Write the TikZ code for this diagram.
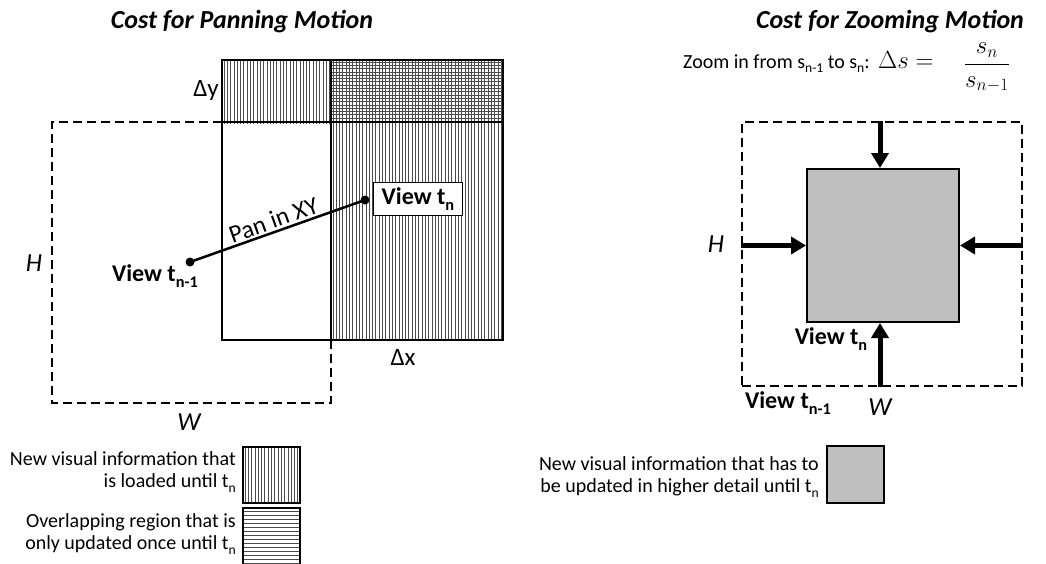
\documentclass[tikz,border=0pt]{standalone}
\usepackage{fontspec}
\setmainfont{Carlito}
\usetikzlibrary{arrows.meta}
\newcommand\dn[1]{\raisebox{-0.5ex}{\scalebox{0.68}{#1}}}
\begin{document}
\begin{tikzpicture}[x=1pt,y=-1pt,
  frame/.style={draw=black,line width=2.2pt},
  dashframe/.style={draw=black,line width=2pt,dash pattern=on 9pt off 5pt},
  hatch/.style={black!70,line width=0.8pt},
  lbl/.style={font=\fontsize{25}{28}\selectfont,inner sep=1pt},
  bold/.style={font=\fontsize{24}{27}\selectfont\bfseries,inner sep=1pt},
  ital/.style={font=\fontsize{26}{29}\selectfont\itshape,inner sep=1pt},
  title/.style={font=\fontsize{26}{30}\selectfont\bfseries\itshape,inner sep=0pt},
  legend/.style={font=\fontsize{20}{22}\selectfont,align=right,inner sep=0pt,anchor=east},
  dot/.style={circle,fill=black,inner sep=0pt,minimum size=9pt},
  zarrow/.style={line width=5pt,-{Triangle[width=17pt,length=15pt]}}
]
\useasboundingbox (0,0) rectangle (1046,563);
% ---------------- Panning ----------------
\node[title] (t1) at (242,22) {Cost for Panning Motion};
% hatching
\foreach \x in {224,227.3,...,502} \draw[hatch] (\x,60) -- (\x,340);
\foreach \y in {62,65.3,...,121} \draw[hatch] (331,\y) -- (503,\y);
% frames
\draw[frame] (222,60) rectangle (503,340);
\draw[frame] (222,122) -- (503,122);
\draw[frame] (331,60) -- (331,340);
\fill[white] (223.5,123.5) rectangle (329.5,338.5);
\draw[frame] (222,122) -- (222,340) -- (331,340);
% old view (dashed)
\draw[dashframe] (222,122) -- (52,122) -- (52,403) -- (331,403) -- (331,340);
\node[lbl] (dy) at (206,90) {Δy};
\node[lbl] (dx) at (403,357) {Δx};
\node[ital] (h1) at (34,263) {H};
\node[ital] (w1) at (189,422) {W};
% pan line
\node[dot] (p1) at (190,262) {};
\node[dot] (p2) at (365,200) {};
\draw[line width=2.5pt] (p1.center) -- node[sloped,above,lbl,inner sep=2pt] (pan) {Pan in XY} (p2.center);
\node[draw,fill=white,line width=0.8pt,bold,anchor=west,minimum width=89pt,minimum height=33pt,inner sep=3pt] (vtn) at (373,199) {View t\dn{n}};
\node[bold] (vtn1) at (155,276) {View t\dn{n-1}};
% ---------------- Zooming ----------------
\node[title] (t2) at (890,22) {Cost for Zooming Motion};
\node[font=\fontsize{20}{23}\selectfont,anchor=base west,inner sep=0pt] (ztext) at (683,68) {Zoom in from s\dn{n-1} to s\dn{n}:};
\node[font=\fontsize{23}{26}\selectfont,anchor=base west,inner sep=0pt] (zds) at ([xshift=8pt]ztext.base east) {$\Delta s = $};
\node[font=\fontsize{25}{28}\selectfont,anchor=west,inner sep=0pt] (zfrac) at ([xshift=30pt,yshift=-8pt]zds.east) {$\displaystyle\frac{s_n}{s_{n-1}}$};
\node[dashframe,minimum width=280pt,minimum height=264pt,inner sep=0pt] (old) at (882,254) {};
\node[draw=black,line width=2pt,fill=black!25,minimum width=152pt,minimum height=153pt,inner sep=0pt] (new) at (883,245.5) {};
\draw[zarrow] (old.north -| 880,0) -- (new.north -| 880,0);
\draw[zarrow] (old.west |- new.west) -- (new.west);
\draw[zarrow] (old.east |- new.east) -- (new.east);
\draw[zarrow] (old.south -| 880,0) -- (new.south -| 880,0);
\node[ital] (h2) at (716,244) {H};
\node[ital] (w2) at (880,407) {W};
\node[bold] (zvtn) at (831,339) {View t\dn{n}};
\node[bold] (zvtn1) at (788,403) {View t\dn{n-1}};
% ---------------- Legends ----------------
\node[legend] (l1) at (236,472) {New visual information that\\is loaded until t\dn{n}};
\begin{scope}
\clip (243,447) rectangle (300,503);
\foreach \x in {245,248.3,...,299} \draw[hatch] (\x,447) -- (\x,503);
\end{scope}
\draw[line width=2pt] (243,447) rectangle (300,503);
\node[legend] (l2) at (236,534) {Overlapping region that is\\only updated once until t\dn{n}};
\begin{scope}
\clip (243,508) rectangle (300,575);
\foreach \y in {511,515,...,575} \draw[hatch] (243,\y) -- (300,\y);
\end{scope}
\draw[line width=2pt] (243,508) rectangle (300,575);
\node[legend] (l3) at (819,477) {New visual information that has to\\be updated in higher detail until t\dn{n}};
\node[draw=black,line width=2pt,fill=black!25,minimum width=57pt,minimum height=57pt,inner sep=0pt] (lbox) at (855.5,474.5) {};
\end{tikzpicture}
\end{document}
